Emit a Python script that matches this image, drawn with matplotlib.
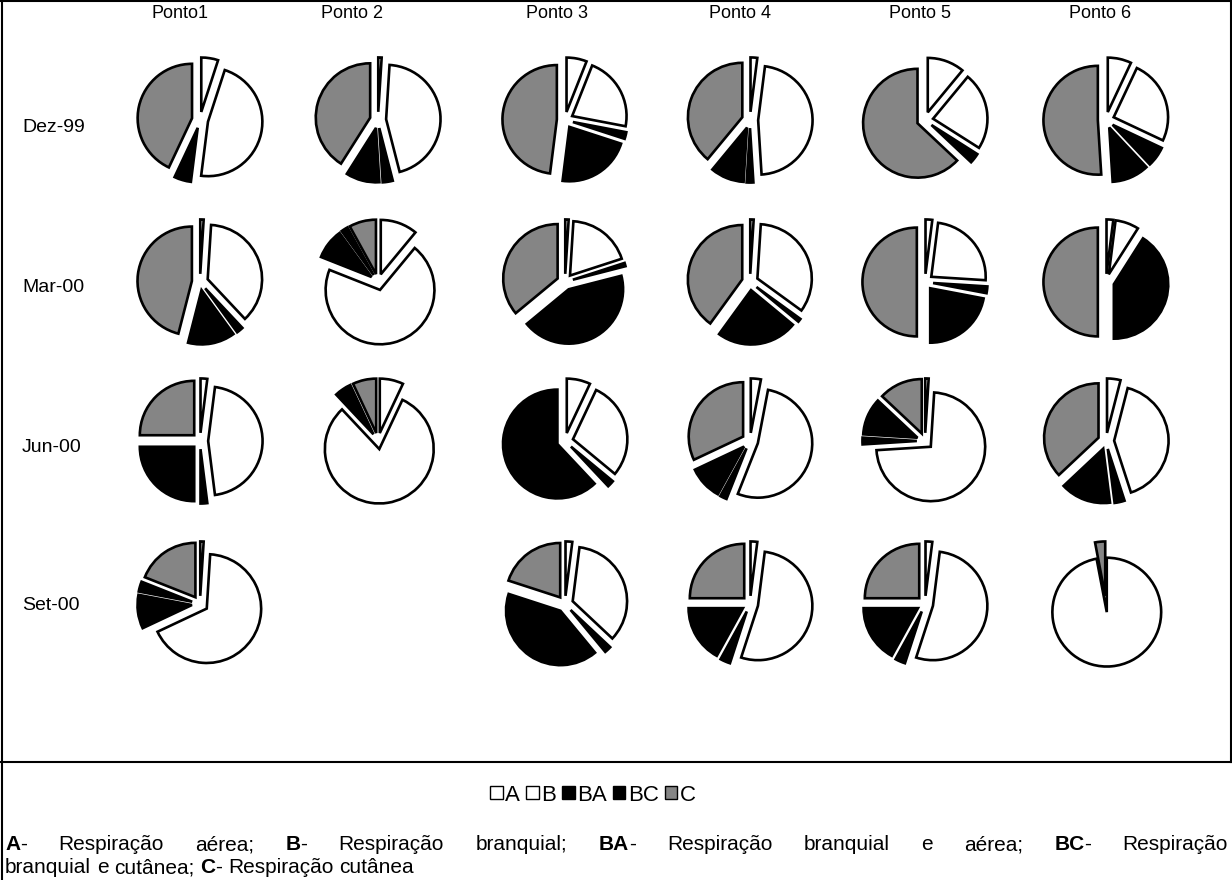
import matplotlib
matplotlib.use("Agg")
import matplotlib.pyplot as plt
from matplotlib.patches import Patch
from matplotlib.lines import Line2D

W, H = 1232, 880

pontos = ["Ponto1", "Ponto 2", "Ponto 3", "Ponto 4", "Ponto 5", "Ponto 6"]
datas = ["Dez-99", "Mar-00", "Jun-00", "Set-00"]
grupos = ["A", "B", "BA", "BC", "C"]
cores = ["white", "white", "black", "black", "#858585"]

# % of A, B, BA, BC, C at each ponto
dez_99 = [[5, 47, 5, 0, 43], [1, 45, 3, 10, 41], [6, 22, 2, 22, 48],
          [2, 47, 2, 10, 39], [11, 23, 3, 0, 63], [7, 25, 6, 11, 51]]
mar_00 = [[1, 37, 2, 14, 46], [11, 70, 9, 2, 8], [1, 19, 1, 43, 36],
          [1, 34, 1, 24, 40], [2, 24, 2, 22, 50], [2, 7, 41, 0, 50]]
jun_00 = [[2, 46, 2, 25, 25], [7, 81, 5, 0, 7], [7, 29, 2, 62, 0],
          [3, 53, 2, 10, 32], [1, 73, 2, 11, 13], [4, 41, 3, 15, 37]]
set_00 = [[1, 67, 10, 3, 19], None, [2, 35, 2, 41, 20],
          [2, 53, 3, 17, 25], [2, 53, 3, 17, 25], [0, 97, 0, 0, 3]]
coletas = [dez_99, mar_00, jun_00, set_00]

# layout in pixels
col_x = [200, 378, 565, 750, 925, 1106]
lin_y = [120, 282, 441, 604]
header_x = [180, 352, 557, 740, 920, 1100]
label_y = [127, 288, 447, 605]
S = 136


def fx(x):
    return x / W


def fy(y):
    return 1 - y / H


plt.rcParams["font.family"] = ["Liberation Sans", "DejaVu Sans"]
fig = plt.figure(figsize=(W / 100, H / 100), dpi=100)

# headers and row labels
for j, nome in enumerate(pontos):
    fig.text(fx(header_x[j]), fy(13), nome, ha="center", va="center", fontsize=13)
for i, d in enumerate(datas):
    fig.text(fx(22), fy(label_y[i]), d, ha="left", va="center", fontsize=14)

# one small exploded pie per ponto / coleta
for i, coleta in enumerate(coletas):
    for j, vals in enumerate(coleta):
        if vals is None:
            continue
        ax = fig.add_axes([fx(col_x[j] - S / 2), fy(lin_y[i] + S / 2), S / W, S / H])
        wedges, _ = ax.pie(vals, colors=cores, startangle=90, counterclock=False,
                           explode=[0.15] * len(vals),
                           wedgeprops=dict(edgecolor="black", linewidth=1.9))
        for w, v in zip(wedges, vals):
            if v == 0:
                w.set_visible(False)
        ax.set_xlim(-1.25, 1.25)
        ax.set_ylim(-1.25, 1.25)
        ax.set_aspect("equal")
        ax.axis("off")

# frame
for xs, ys in [([1.5, 1.5], [0, H]), ([0, W], [1.5, 1.5]),
               ([W - 1.5, W - 1.5], [0, 762]), ([0, W], [762, 762])]:
    fig.add_artist(Line2D([fx(x) for x in xs], [fy(y) for y in ys],
                          color="black", lw=1.5))

# legend
handles = [Patch(facecolor=c, edgecolor="black", linewidth=1) for c in cores]
fig.legend(handles, grupos, loc="center", bbox_to_anchor=(fx(593), fy(795)),
           ncol=5, frameon=False, fontsize=16, handlelength=0.55, handleheight=0.55,
           handletextpad=0.1, columnspacing=0.3)

# caption with bold keys
renderer = fig.canvas.get_renderer()
FS = 15


def largura(txt, peso):
    t = fig.text(0, 0, txt, fontsize=FS, fontweight=peso)
    w = t.get_window_extent(renderer).width
    t.remove()
    return w


def escreve(palavras, y, x0, x1=None):
    larg = [sum(largura(t, p) for t, p in pal) for pal in palavras]
    espaco = largura("a a", "normal") - largura("aa", "normal")
    if x1 is not None:
        espaco = (x1 - x0 - sum(larg)) / (len(palavras) - 1)
    x = x0
    for pal, lw in zip(palavras, larg):
        xx = x
        for t, p in pal:
            fig.text(fx(xx), fy(y), t, fontsize=FS, fontweight=p, va="baseline")
            xx += largura(t, p)
        x += lw + espaco


b, n = "bold", "normal"
linha1 = [[("A", b), ("-", n)], [("Respiração", n)], [("aérea;", n)],
          [("B", b), ("-", n)], [("Respiração", n)], [("branquial;", n)],
          [("BA", b), ("-", n)], [("Respiração", n)], [("branquial", n)], [("e", n)],
          [("aérea;", n)], [("BC", b), ("-", n)], [("Respiração", n)]]
linha2 = [[("branquial", n)], [("e", n)], [("cutânea;", n)], [("C", b), ("-", n)],
          [("Respiração", n)], [("cutânea", n)]]
escreve(linha1, 850, 5, 1228)
escreve(linha2, 873, 5)

fig.savefig("out.png", dpi=100)
